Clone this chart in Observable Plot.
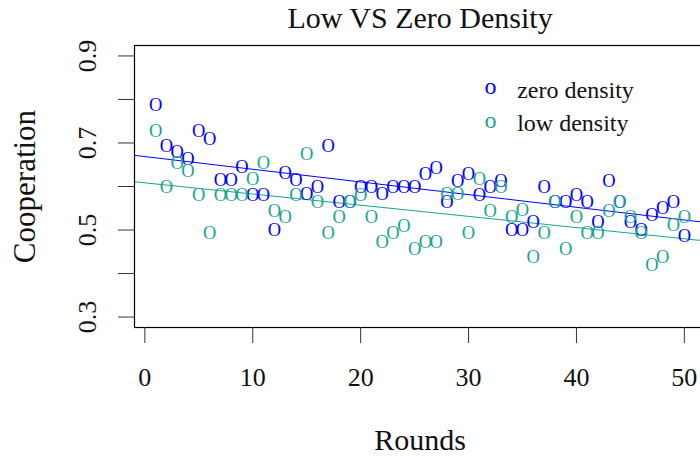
<!DOCTYPE html>
<html>
<head>
<meta charset="utf-8">
<script src="https://cdn.jsdelivr.net/npm/d3@7"></script>
<script src="https://cdn.jsdelivr.net/npm/@observablehq/plot@0.6"></script>
<style>
  html, body { margin: 0; padding: 0; background: #fff; overflow: hidden; }
  #chart { width: 700px; height: 456px; overflow: hidden; }
  #chart svg { max-width: none !important; display: block; }
</style>
</head>
<body>
<div id="chart"></div>
<script>
// Cooperation rate per round for the two density conditions
const rounds = [1, 2, 3, 4, 5, 6, 7, 8, 9, 10,
                11, 12, 13, 14, 15, 16, 17, 18, 19, 20,
                21, 22, 23, 24, 25, 26, 27, 28, 29, 30,
                31, 32, 33, 34, 35, 36, 37, 38, 39, 40,
                41, 42, 43, 44, 45, 46, 47, 48, 49, 50];

const zeroDensity = [0.788, 0.693, 0.679, 0.662, 0.727, 0.710, 0.614, 0.614, 0.645, 0.580,
                     0.580, 0.501, 0.630, 0.614, 0.582, 0.598, 0.692, 0.565, 0.565, 0.598,
                     0.598, 0.582, 0.598, 0.598, 0.598, 0.628, 0.643, 0.565, 0.612, 0.629,
                     0.581, 0.598, 0.612, 0.501, 0.501, 0.518, 0.598, 0.565, 0.565, 0.581,
                     0.565, 0.518, 0.612, 0.565, 0.518, 0.501, 0.534, 0.550, 0.565, 0.486];

const lowDensity = [0.727, 0.599, 0.654, 0.636, 0.580, 0.492, 0.580, 0.580, 0.580, 0.618,
                    0.654, 0.544, 0.529, 0.580, 0.674, 0.565, 0.492, 0.529, 0.565, 0.580,
                    0.529, 0.473, 0.492, 0.509, 0.456, 0.473, 0.473, 0.582, 0.582, 0.492,
                    0.618, 0.544, 0.598, 0.529, 0.546, 0.437, 0.492, 0.565, 0.456, 0.529,
                    0.492, 0.492, 0.544, 0.565, 0.529, 0.492, 0.420, 0.437, 0.511, 0.529];

const seriesNames = ["zero density", "low density"];
const seriesColors = ["#0000ff", "#16a593"];

const xTicks = [0, 10, 20, 30, 40, 50];
const yTicks = [0.3, 0.4, 0.5, 0.6, 0.7, 0.8, 0.9];
const yTickLabels = [0.3, 0.5, 0.7, 0.9];

// Axis limits: data range padded by 4% on each side
const xDomain = [-0.96, 51.96];
const yDomain = [0.276, 0.924];

const seriesValues = [zeroDensity, lowDensity];

const points = seriesNames.flatMap((name, s) =>
  rounds.map((r, i) => ({round: r, value: seriesValues[s][i], series: name})));

// Ordinary least-squares fit, extended across the full x range
function fit(xs, ys) {
  const mx = d3.mean(xs), my = d3.mean(ys);
  const b = d3.sum(xs, (x, i) => (x - mx) * (ys[i] - my)) / d3.sum(xs, x => (x - mx) ** 2);
  return {a: my - b * mx, b};
}
const fitRows = seriesNames.flatMap((name, s) => {
  const {a, b} = fit(rounds, seriesValues[s]);
  return xDomain.map(x => ({round: x, value: a + b * x, series: name}));
});

const serif = "'Liberation Serif', 'Times New Roman', serif";

const legendMarks = seriesNames.flatMap((name, i) => [
  Plot.text([name], {
    frameAnchor: "top-left", dx: 356, dy: 41.1 + i * 33.4,
    text: () => "o", fill: seriesColors[i], fontSize: 24,
    textAnchor: "middle", lineAnchor: "middle"
  }),
  Plot.text([name], {
    frameAnchor: "top-left", dx: 382.7, dy: 44.6 + i * 33.4,
    text: d => d, fill: "#111", fontSize: 24,
    textAnchor: "start", lineAnchor: "middle"
  })
]);

const chart = Plot.plot({
  width: 712,
  height: 456,
  marginLeft: 134,
  marginRight: 7,
  marginTop: 45,
  marginBottom: 129,
  style: {fontFamily: serif, background: "#fff", color: "#111", maxWidth: "none"},
  x: {domain: xDomain},
  y: {domain: yDomain},
  color: {domain: seriesNames, range: seriesColors},
  marks: [
    // fitted trend lines
    Plot.line(fitRows, {x: "round", y: "value", z: "series", stroke: "series", strokeWidth: 1, clip: true}),
    // observations drawn as open "O" glyphs
    Plot.text(points, {
      x: "round", y: "value", fill: "series", text: () => "O",
      fontSize: 18.5, textAnchor: "middle", lineAnchor: "middle"
    }),
    Plot.frame({stroke: "#000", strokeWidth: 1.2}),
    // tick marks
    Plot.axisX({ticks: xTicks, tickSize: 16, tickFormat: () => "", label: null, stroke: "#333", strokeWidth: 1}),
    Plot.axisY({ticks: yTicks, tickSize: 16, tickFormat: () => "", label: null, stroke: "#333", strokeWidth: 1}),
    // tick labels
    Plot.text(xTicks, {
      x: d => d, text: d => String(d), frameAnchor: "bottom", dy: 50,
      fontSize: 26, textAnchor: "middle", lineAnchor: "middle", fill: "#111"
    }),
    Plot.text(yTickLabels, {
      y: d => d, text: d => d.toFixed(1), frameAnchor: "left", dx: -47, rotate: -90,
      fontSize: 26, textAnchor: "middle", lineAnchor: "middle", fill: "#111"
    }),
    // title and axis titles
    Plot.text(["Low VS Zero Density"], {
      frameAnchor: "top", dy: -27.6, text: d => d, fontSize: 30,
      textAnchor: "middle", lineAnchor: "middle", fill: "#111"
    }),
    Plot.text(["Rounds"], {
      frameAnchor: "bottom", dy: 113, text: d => d, fontSize: 30,
      textAnchor: "middle", lineAnchor: "middle", fill: "#111"
    }),
    Plot.text(["Cooperation"], {
      frameAnchor: "left", dx: -109, rotate: -90, text: d => d, fontSize: 31,
      textAnchor: "middle", lineAnchor: "middle", fill: "#111"
    }),
    ...legendMarks
  ]
});

document.getElementById("chart").appendChild(chart);
</script>
</body>
</html>
